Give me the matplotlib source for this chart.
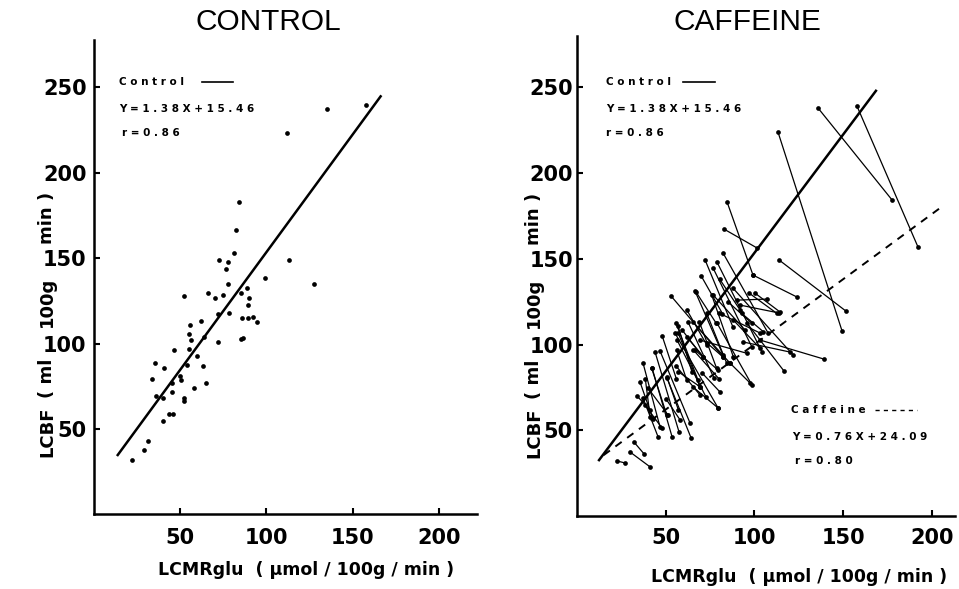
import matplotlib.pyplot as plt
import numpy as np

plt.rcParams['font.family'] = ['DejaVu Sans']

# Control group: LCMRglu vs LCBF per structure (left panel)
ctrl_x = [72.7, 77.9, 76.4, 77.9, 52.3, 66.0, 70.4, 74.9, 78.5, 71.8, 55.8, 62.1, 55.4, 56.2,
          63.9, 72.0, 46.5, 55.4, 59.7, 35.5, 40.9, 53.9, 63.5, 50.0, 33.6, 45.5, 50.6, 58.1,
          65.0, 45.5, 36.0, 40.3, 52.5, 52.5, 43.6, 45.8, 40.3, 31.3, 29.4, 22.3, 84.3, 82.4,
          81.2, 112.8, 99.1, 127.5, 88.6, 85.1, 90.1, 89.3, 85.8, 89.5, 92.4, 94.3, 85.3, 86.4,
          134.8, 157.5, 112.0]
ctrl_y = [148.8, 147.5, 143.6, 134.6, 127.8, 129.5, 126.6, 128.5, 118.0, 117.3, 111.0, 113.3,
          105.7, 101.9, 103.6, 100.7, 96.2, 96.8, 92.7, 88.8, 85.5, 87.4, 86.7, 81.0, 79.1, 76.7,
          78.7, 73.8, 76.7, 71.6, 69.5, 68.0, 68.3, 66.5, 58.9, 58.6, 54.7, 43.2, 37.5, 31.7,
          182.9, 166.5, 152.7, 148.8, 138.5, 135.0, 132.3, 129.4, 126.6, 122.5, 115.1, 115.1,
          115.5, 112.6, 102.5, 103.2, 237.0, 239.3, 222.9]

# Caffeine panel: each structure's control value (x0, y0) joined to its caffeine value (x1, y1)
pair_x0 = [135.9, 157.8, 113.3, 84.6, 99.2, 82.9, 113.9, 72.2, 76.7, 78.9, 82.3, 87.9, 103.2,
           66.5, 90.2, 91.9, 95.8, 53.0, 67.1, 76.7, 80.0, 46.8, 55.2, 56.4, 62.6, 65.4, 56.9,
           37.2, 35.5, 37.2, 42.3, 44.0, 50.7, 59.2, 66.5, 65.4, 70.5, 73.3, 86.2, 22.5, 29.9,
           32.1, 55.8, 78.9, 100.3, 93.6, 50.2, 55.8, 33.8, 38.3, 40.0,
           75.9, 73.1, 68.9, 57.1, 61.8, 69.3, 56.2, 65.6, 42.1, 50.6, 57.1, 38.5, 88.1, 92.8,
           85.0, 97.0, 62.0, 48.0, 80.5, 70.0]
pair_y0 = [237.9, 239.1, 223.9, 183.1, 140.5, 167.3, 149.3, 149.3, 144.6, 148.1, 153.4, 132.9,
           102.6, 131.2, 125.9, 123.0, 112.5, 128.3, 130.6, 128.9, 118.4, 96.2, 106.7, 102.6,
           113.1, 113.1, 110.8, 89.2, 78.1, 68.8, 86.3, 95.6, 80.5, 108.5, 96.8, 75.2, 83.4,
           100.9, 89.2, 32.1, 37.3, 43.1, 112.5, 112.5, 130.0, 101.5, 68.2, 87.5, 70.0, 64.7, 74.6,
           128.9, 118.2, 113.3, 106.5, 104.5, 102.6, 96.8, 96.8, 86.1, 81.2, 84.1, 80.0, 114.3,
           118.2, 125.0, 130.0, 120.0, 105.0, 138.0, 140.0]
pair_x1 = [177.6, 192.2, 149.4, 99.2, 124.0, 101.5, 151.6, 87.9, 98.6, 104.3, 107.7, 121.8,
           139.2, 82.3, 107.1, 113.9, 116.7, 82.3, 78.4, 94.7, 103.2, 63.7, 79.5, 72.7, 77.2,
           86.2, 64.8, 46.8, 42.8, 45.7, 53.6, 57.5, 64.3, 71.0, 79.5, 79.5, 80.6, 82.3, 97.5,
           27.1, 41.2, 37.8, 68.2, 98.6, 114.4, 120.1, 58.1, 69.3, 41.2, 47.9, 51.3,
           88.1, 84.4, 78.7, 69.3, 71.2, 95.7, 61.8, 80.0, 50.6, 57.1, 69.3, 41.2, 103.2, 105.0,
           98.5, 112.6, 73.0, 56.0, 92.0, 82.0]
pair_y1 = [184.3, 156.9, 107.9, 140.5, 127.7, 156.3, 119.5, 110.2, 98.5, 95.6, 106.7, 93.9,
           91.5, 93.9, 126.5, 118.4, 84.5, 92.7, 112.5, 108.5, 106.7, 54.2, 63.0, 69.4, 80.5,
           89.2, 84.0, 51.9, 56.6, 46.1, 46.1, 49.0, 45.5, 92.7, 85.1, 63.0, 72.3, 92.7, 77.6,
           30.9, 28.6, 36.2, 79.3, 76.4, 119.0, 95.6, 56.0, 70.6, 61.8, 51.3, 58.9,
           92.9, 89.0, 86.1, 75.4, 92.9, 94.9, 79.3, 80.0, 58.9, 62.0, 75.4, 57.9, 97.8, 107.5,
           112.4, 118.2, 100.0, 80.0, 120.0, 118.0]

# regression fits
ctrl_slope, ctrl_icpt = 1.38, 15.46
caff_slope, caff_icpt = 0.76, 24.09
ctrl_span = [14, 166]
ctrl_span_r = [12.4, 168.5]
caff_span = [15, 205]

ticks = [50, 100, 150, 200]
yticks = [50, 100, 150, 200, 250]

# y label is typeset in pieces that sit between the tick labels
ylab_parts = ['LCBF', '( ml', '100g', 'min )']
ylab_rows = [432, 378, 302, 218]  # pixel rows from the top

fig = plt.figure(figsize=(9.59, 5.89), dpi=100)
axL = fig.add_axes([0.0975, 0.1265, 0.4004, 0.8056])
axR = fig.add_axes([0.6017, 0.124, 0.394, 0.815])


def style(ax, xmax, ymax, ypad, xpad):
    ax.set_xlim(0, xmax)
    ax.set_ylim(0, ymax)
    for s in ['top', 'right']:
        ax.spines[s].set_visible(False)
    for s in ['left', 'bottom']:
        ax.spines[s].set_linewidth(1.8)
    ax.set_xticks(ticks)
    ax.set_yticks(yticks)
    ax.tick_params(direction='in', length=4, width=1.5, labelsize=15)
    ax.tick_params(axis='y', pad=ypad)
    ax.tick_params(axis='x', pad=xpad)
    for lab in ax.get_xticklabels() + ax.get_yticklabels():
        lab.set_fontweight('bold')


style(axL, 222, 277.5, 5, 9.5)
style(axR, 213, 280, 3, 8.5)

# left: control scatter + fit
axL.plot(ctrl_x, ctrl_y, 'o', color='black', markersize=3.4, markeredgewidth=0)
xs = np.array(ctrl_span)
axL.plot(xs, ctrl_slope * xs + ctrl_icpt, color='black', lw=1.8)

# right: paired segments, control fit, caffeine fit
for x0, y0, x1, y1 in zip(pair_x0, pair_y0, pair_x1, pair_y1):
    axR.plot([x0, x1], [y0, y1], '-o', color='black', lw=0.9, markersize=3.4, markeredgewidth=0)
xs = np.array(ctrl_span_r)
axR.plot(xs, ctrl_slope * xs + ctrl_icpt, color='black', lw=1.8)
xs = np.array(caff_span)
axR.plot(xs, caff_slope * xs + caff_icpt, color='black', lw=1.4, linestyle=(0, (4, 3.5)))

# annotations
tkw = dict(fontsize=7.5, fontweight='bold', va='center', ha='left')
axL.text(0.066, 0.9115, 'C o n t r o l', transform=axL.transAxes, **tkw)
axL.plot([0.283, 0.363], [0.9115, 0.9115], transform=axL.transAxes, color='black', lw=1.2)
axL.text(0.066, 0.8546, 'Y = 1 . 3 8 X + 1 5 . 4 6', transform=axL.transAxes, **tkw)
axL.text(0.074, 0.804, 'r = 0 . 8 6', transform=axL.transAxes, **tkw)

axR.text(0.0767, 0.904, 'C o n t r o l', transform=axR.transAxes, **tkw)
axR.plot([0.28, 0.365], [0.904, 0.904], transform=axR.transAxes, color='black', lw=1.2)
axR.text(0.0767, 0.848, 'Y = 1 . 3 8 X + 1 5 . 4 6', transform=axR.transAxes, **tkw)
axR.text(0.0767, 0.798, 'r = 0 . 8 6', transform=axR.transAxes, **tkw)

axR.text(0.566, 0.221, 'C a f f e i n e', transform=axR.transAxes, **tkw)
axR.plot([0.788, 0.899], [0.221, 0.221], transform=axR.transAxes, color='black', lw=1.0,
         linestyle=(0, (3, 3)))
axR.text(0.569, 0.165, 'Y = 0 . 7 6 X + 2 4 . 0 9', transform=axR.transAxes, **tkw)
axR.text(0.577, 0.115, 'r = 0 . 8 0', transform=axR.transAxes, **tkw)

# titles and axis labels
fig.text(0.2795, 0.9626, 'CONTROL', fontsize=21.5, family='Liberation Sans', ha='center', va='center')
fig.text(0.779, 0.9626, 'CAFFEINE', fontsize=21.5, family='Liberation Sans', ha='center', va='center')

H, W = 589.0, 959.0
for part, row in zip(ylab_parts, ylab_rows):
    fig.text(47 / W, 1 - row / H, part, rotation=90, fontsize=13, fontweight='bold',
             ha='center', va='center')
    fig.text(534 / W, 1 - (row + 1) / H, part, rotation=90, fontsize=13, fontweight='bold',
             ha='center', va='center')

xlab = 'LCMRglu  ( μmol / 100g / min )'
fig.text(0.319, 0.032, xlab, fontsize=12.5, fontweight='bold', ha='center', va='center')
fig.text(0.833, 0.020, xlab, fontsize=12.5, fontweight='bold', ha='center', va='center')

fig.savefig('out.png', dpi=100)
